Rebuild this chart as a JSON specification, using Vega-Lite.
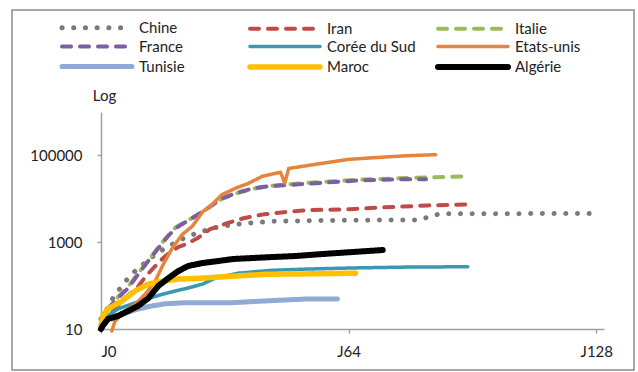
{
  "$schema": "https://vega.github.io/schema/vega-lite/v6.json",
  "width": 622,
  "height": 360,
  "autosize": {"type": "none"},
  "padding": {"left": 12, "top": 10, "right": 4, "bottom": 2},
  "background": "white",
  "config": {
    "font": "Lato",
    "view": {"stroke": "#8c8c8c", "strokeWidth": 1.5},
    "axis": {"grid": false, "domainColor": "#a0a0a0", "domainWidth": 1.5, "tickColor": "#a0a0a0", "tickWidth": 1.5, "tickSize": 4, "labelColor": "#222", "labelFontSize": 15, "labelFont": "Lato"}
  },
  "data": {
    "values": [
      {"s":"Chine","d":0,"v":17},{"s":"Chine","d":1.6,"v":29},{"s":"Chine","d":3.1,"v":52},{"s":"Chine","d":5.2,"v":93},{"s":"Chine","d":7,"v":148},{"s":"Chine","d":9.3,"v":240},{"s":"Chine","d":11.9,"v":366},{"s":"Chine","d":14.5,"v":560},{"s":"Chine","d":17.1,"v":770},{"s":"Chine","d":19.8,"v":1050},{"s":"Chine","d":22.5,"v":1380},{"s":"Chine","d":25.6,"v":1700},{"s":"Chine","d":28.8,"v":2100},{"s":"Chine","d":31.3,"v":2330},{"s":"Chine","d":34.5,"v":2580},{"s":"Chine","d":37.8,"v":2740},{"s":"Chine","d":44,"v":3030},{"s":"Chine","d":52,"v":3100},{"s":"Chine","d":60,"v":3180},{"s":"Chine","d":70,"v":3230},{"s":"Chine","d":82,"v":3250},{"s":"Chine","d":87.5,"v":4500},{"s":"Chine","d":129,"v":4600},
      {"s":"Iran","d":0,"v":12},{"s":"Iran","d":3,"v":25},{"s":"Iran","d":6,"v":50},{"s":"Iran","d":9.3,"v":88},{"s":"Iran","d":11.6,"v":165},{"s":"Iran","d":14,"v":280},{"s":"Iran","d":16.6,"v":480},{"s":"Iran","d":19.9,"v":770},{"s":"Iran","d":21.8,"v":890},{"s":"Iran","d":24.9,"v":1230},{"s":"Iran","d":28.2,"v":1990},{"s":"Iran","d":32.6,"v":2740},{"s":"Iran","d":36.8,"v":3560},{"s":"Iran","d":42,"v":4380},{"s":"Iran","d":47.2,"v":4890},{"s":"Iran","d":53.4,"v":5480},{"s":"Iran","d":64.5,"v":5750},{"s":"Iran","d":73,"v":6350},{"s":"Iran","d":84.5,"v":7050},{"s":"Iran","d":95.6,"v":7450},
      {"s":"Italie","d":0,"v":10},{"s":"Italie","d":1.8,"v":28},{"s":"Italie","d":4.4,"v":55},{"s":"Italie","d":7,"v":95},{"s":"Italie","d":9.6,"v":190},{"s":"Italie","d":12.2,"v":380},{"s":"Italie","d":14.8,"v":760},{"s":"Italie","d":17.1,"v":1350},{"s":"Italie","d":19.2,"v":2150},{"s":"Italie","d":21.8,"v":2950},{"s":"Italie","d":24.4,"v":4000},{"s":"Italie","d":27.5,"v":6000},{"s":"Italie","d":31.3,"v":10000},{"s":"Italie","d":35.5,"v":13800},{"s":"Italie","d":39.4,"v":17000},{"s":"Italie","d":43.3,"v":19500},{"s":"Italie","d":47.2,"v":21000},{"s":"Italie","d":51,"v":22500},{"s":"Italie","d":58.8,"v":25000},{"s":"Italie","d":67.6,"v":27800},{"s":"Italie","d":76.2,"v":29500},{"s":"Italie","d":84,"v":31000},{"s":"Italie","d":90,"v":32200},{"s":"Italie","d":94.6,"v":33000},
      {"s":"France","d":0,"v":12},{"s":"France","d":1.8,"v":30},{"s":"France","d":4.4,"v":52},{"s":"France","d":7,"v":87},{"s":"France","d":9.6,"v":183},{"s":"France","d":12.2,"v":366},{"s":"France","d":14.8,"v":725},{"s":"France","d":17.1,"v":1300},{"s":"France","d":19.2,"v":2100},{"s":"France","d":21.8,"v":2880},{"s":"France","d":24.4,"v":3970},{"s":"France","d":27.5,"v":6040},{"s":"France","d":31.3,"v":10300},{"s":"France","d":35.5,"v":14100},{"s":"France","d":39.4,"v":17400},{"s":"France","d":43.3,"v":19400},{"s":"France","d":47.2,"v":20500},{"s":"France","d":51,"v":21500},{"s":"France","d":58.8,"v":23900},{"s":"France","d":67.6,"v":26800},{"s":"France","d":76.2,"v":28000},{"s":"France","d":84,"v":28300},
      {"s":"Corée du Sud","d":0,"v":11},{"s":"Corée du Sud","d":1,"v":18},{"s":"Corée du Sud","d":4.4,"v":29},{"s":"Corée du Sud","d":8.8,"v":40},{"s":"Corée du Sud","d":15.8,"v":63},{"s":"Corée du Sud","d":19.2,"v":75},{"s":"Corée du Sud","d":22.5,"v":88},{"s":"Corée du Sud","d":26.2,"v":108},{"s":"Corée du Sud","d":29.5,"v":148},{"s":"Corée du Sud","d":35.5,"v":193},{"s":"Corée du Sud","d":44,"v":225},{"s":"Corée du Sud","d":52.8,"v":240},{"s":"Corée du Sud","d":65,"v":255},{"s":"Corée du Sud","d":78.8,"v":267},{"s":"Corée du Sud","d":94.8,"v":272},
      {"s":"Etats-unis","d":2.8,"v":9},{"s":"Etats-unis","d":3.6,"v":15},{"s":"Etats-unis","d":6.2,"v":26},{"s":"Etats-unis","d":8.8,"v":37},{"s":"Etats-unis","d":11.4,"v":63},{"s":"Etats-unis","d":14,"v":126},{"s":"Etats-unis","d":16.1,"v":310},{"s":"Etats-unis","d":18.4,"v":725},{"s":"Etats-unis","d":21,"v":1510},{"s":"Etats-unis","d":23.6,"v":2330},{"s":"Etats-unis","d":26.4,"v":5170},{"s":"Etats-unis","d":27.7,"v":6040},{"s":"Etats-unis","d":31.3,"v":12600},{"s":"Etats-unis","d":34.7,"v":17400},{"s":"Etats-unis","d":38.1,"v":22700},{"s":"Etats-unis","d":41.7,"v":33000},{"s":"Etats-unis","d":45.1,"v":38600},{"s":"Etats-unis","d":46.4,"v":40800},{"s":"Etats-unis","d":47.5,"v":23000},{"s":"Etats-unis","d":48.5,"v":50000},{"s":"Etats-unis","d":52.1,"v":56000},{"s":"Etats-unis","d":57.3,"v":66000},{"s":"Etats-unis","d":64,"v":81000},{"s":"Etats-unis","d":71.8,"v":90000},{"s":"Etats-unis","d":78.8,"v":98000},{"s":"Etats-unis","d":86.5,"v":104000},
      {"s":"Tunisie","d":0,"v":12},{"s":"Tunisie","d":0.3,"v":15},{"s":"Tunisie","d":5.4,"v":22},{"s":"Tunisie","d":9.6,"v":29},{"s":"Tunisie","d":13.2,"v":34},{"s":"Tunisie","d":16.6,"v":38},{"s":"Tunisie","d":21,"v":40},{"s":"Tunisie","d":32.9,"v":40},{"s":"Tunisie","d":41.7,"v":44},{"s":"Tunisie","d":52.8,"v":49},{"s":"Tunisie","d":61.1,"v":49},
      {"s":"Maroc","d":0,"v":12},{"s":"Maroc","d":0.5,"v":20},{"s":"Maroc","d":1.8,"v":29},{"s":"Maroc","d":5.4,"v":44},{"s":"Maroc","d":8.8,"v":75},{"s":"Maroc","d":12.2,"v":108},{"s":"Maroc","d":15.8,"v":126},{"s":"Maroc","d":19.9,"v":141},{"s":"Maroc","d":25.6,"v":148},{"s":"Maroc","d":34.2,"v":165},{"s":"Maroc","d":43,"v":183},{"s":"Maroc","d":50.3,"v":185},{"s":"Maroc","d":65.8,"v":193},
      {"s":"Algérie","d":0,"v":10},{"s":"Algérie","d":0.5,"v":12},{"s":"Algérie","d":1.8,"v":17},{"s":"Algérie","d":4.4,"v":20},{"s":"Algérie","d":7,"v":26},{"s":"Algérie","d":9.6,"v":34},{"s":"Algérie","d":12.2,"v":51},{"s":"Algérie","d":14.8,"v":98},{"s":"Algérie","d":17.4,"v":148},{"s":"Algérie","d":19.9,"v":214},{"s":"Algérie","d":22.5,"v":282},{"s":"Algérie","d":26.2,"v":330},{"s":"Algérie","d":34.2,"v":410},{"s":"Algérie","d":43,"v":450},{"s":"Algérie","d":50.3,"v":480},{"s":"Algérie","d":56.7,"v":530},{"s":"Algérie","d":72.8,"v":660}
    ]
  },
  "mark": {"type": "line", "strokeCap": "round", "strokeJoin": "round", "clip": false},
  "encoding": {
    "x": {
      "field": "d", "type": "quantitative",
      "scale": {"domain": [0, 130], "range": [89, 592], "nice": false, "zero": false},
      "axis": {"values": [0, 64, 128], "labelExpr": "'J' + datum.value", "offset": -41, "title": null, "labelPadding": 11}
    },
    "y": {
      "field": "v", "type": "quantitative",
      "scale": {"type": "log", "domain": [10, 1000000], "range": [319, 102], "nice": false},
      "axis": {"values": [10, 1000, 100000], "format": "d", "offset": -89, "labelPadding": 15,
        "title": "Log", "titleAngle": 0, "titleX": 3, "titleY": 85, "titleAlign": "center", "titleBaseline": "middle", "titleFontWeight": "normal", "titleFontSize": 15, "titleColor": "#222", "titleFont": "Lato"}
    },
    "color": {
      "field": "s", "type": "nominal", "title": null,
      "scale": {"domain": ["Chine","Iran","Italie","France","Corée du Sud","Etats-unis","Tunisie","Maroc","Algérie"],
        "range": ["#7a7a7a","#be4b48","#9bbb59","#7b5fa0","#3a98b0","#e5843c","#8faad3","#ffc000","#000000"]},
      "legend": {"orient": "none", "legendX": 42, "legendY": 9, "direction": "horizontal", "columns": 3, "gridAlign": "all", "columnPadding": 10, "rowPadding": -6.5, "symbolType": "M0,0H14", "symbolSize": 100, "labelOffset": 69, "labelFontSize": 15, "labelFont": "Lato", "labelColor": "#222", "padding": 0,
        "encoding": {"symbols": {"strokeCap": {"value": "round"}}}}
    },
    "strokeDash": {
      "field": "s", "type": "nominal", "title": null,
      "scale": {"domain": ["Chine","Iran","Italie","France","Corée du Sud","Etats-unis","Tunisie","Maroc","Algérie"],
        "range": [[0.1, 11.6],[9, 9],[9, 9],[9, 9],[1, 0],[1, 0],[1, 0],[1, 0],[1, 0]]}
    },
    "strokeWidth": {
      "field": "s", "type": "nominal", "title": null,
      "scale": {"type": "ordinal", "domain": ["Chine","Iran","Italie","France","Corée du Sud","Etats-unis","Tunisie","Maroc","Algérie"],
        "range": [5, 4, 4, 4, 3.5, 3.5, 5, 5.5, 6]}
    }
  }
}
